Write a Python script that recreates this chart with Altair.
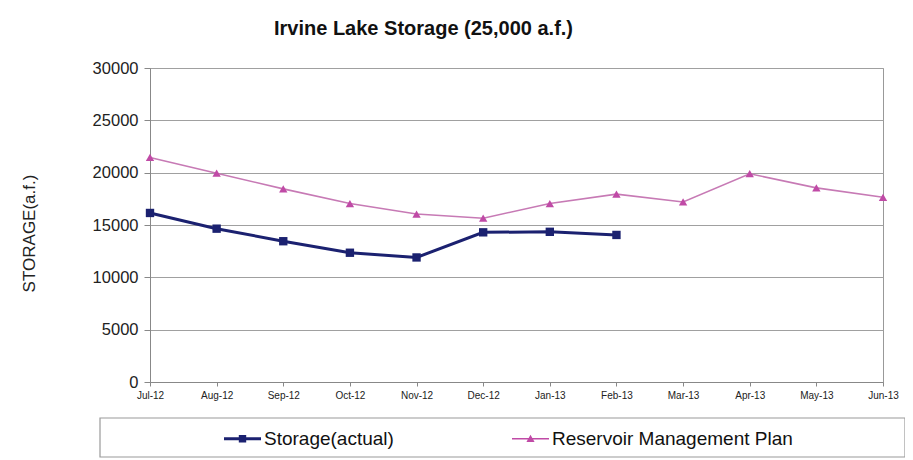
import altair as alt
import pandas as pd

months = ["Jul-12", "Aug-12", "Sep-12", "Oct-12", "Nov-12", "Dec-12",
          "Jan-13", "Feb-13", "Mar-13", "Apr-13", "May-13", "Jun-13"]
actual = [16150, 14650, 13450, 12350, 11900, 14300, 14350, 14050]
plan = [21450, 19950, 18450, 17050, 16050, 15650, 17050, 17950, 17200, 19900, 18550, 17650]
series_names = ["Storage(actual)", "Reservoir Management Plan"]
y_ticks = [0, 5000, 10000, 15000, 20000, 25000, 30000]

rows = []
for m, v in zip(months, actual):
    rows.append({"month": m, "value": v, "series": series_names[0]})
for m, v in zip(months, plan):
    rows.append({"month": m, "value": v, "series": series_names[1]})
df = pd.DataFrame(rows)

NAVY = "#1b2170"
PINK = "#c04aa6"
PINK_LINE = "#c77ab5"
FONT = "Liberation Sans"

x_enc = alt.X("month:N", sort=months,
              scale=alt.Scale(domain=months, padding=0),
              axis=alt.Axis(title=None, labelAngle=0, labelFontSize=10, labelColor="#222",
                            domainColor="#888", tickColor="#888", tickSize=4,
                            labelPadding=4, grid=False))
y_enc = alt.Y("value:Q", scale=alt.Scale(domain=[0, 30000]),
              axis=alt.Axis(title="STORAGE(a.f.)", values=y_ticks, format="d",
                            labelFontSize=16.5, labelColor="#222", labelPadding=6,
                            titleFontSize=17, titleFontWeight="normal", titleColor="#222",
                            titleAngle=-90, titleX=-112, titleY=165,
                            domainColor="#888", tickColor="#888", tickSize=6,
                            gridColor="#a0a0a0", gridWidth=1))

base = alt.Chart(df).encode(x=x_enc, y=y_enc)

act = base.transform_filter(alt.datum.series == series_names[0])
pln = base.transform_filter(alt.datum.series == series_names[1])

line_act = act.mark_line(color=NAVY, strokeWidth=3)
pts_act = act.mark_point(shape="square", filled=True, color=NAVY, size=70, opacity=1)
line_pln = pln.mark_line(color=PINK_LINE, strokeWidth=1.6)
pts_pln = pln.mark_point(shape="triangle-up", filled=True, color=PINK, size=70, opacity=1)

sq_path = "M-1,-0.08H1V0.08H-1Z M-0.2,-0.2H0.2V0.2H-0.2Z"
tri_path = "M-1,-0.04H1V0.04H-1Z M0,-0.22L0.22,0.17H-0.22Z"

legend_props = dict(orient="none", legendX=73, legendY=351,
                    direction="horizontal", title=None,
                    labelFontSize=19, labelColor="#111", labelFont=FONT,
                    symbolSize=1369, labelOffset=2,
                    columnPadding=117, padding=0, labelLimit=400)

legend_layer = base.transform_filter("datum.value < 0").mark_point(filled=True, opacity=1).encode(
    color=alt.Color("series:N",
                    scale=alt.Scale(domain=series_names, range=[NAVY, PINK]),
                    legend=alt.Legend(**legend_props)),
    shape=alt.Shape("series:N",
                    scale=alt.Scale(domain=series_names, range=[sq_path, tri_path]),
                    legend=alt.Legend(**legend_props)),
)

frame = alt.Chart(pd.DataFrame({"k": [0]})).mark_rect(
    fill=None, stroke="#9a9a9a", strokeWidth=1.2
).encode(x=alt.value(-50), x2=alt.value(755), y=alt.value(350), y2=alt.value(389))

chart = alt.layer(line_pln, pts_pln, line_act, pts_act, legend_layer, frame).properties(
    width=733, height=314,
    title=alt.TitleParams("Irvine Lake Storage (25,000 a.f.)", fontSize=20, fontWeight="bold",
                          font=FONT, color="#111", anchor="middle", dx=-93, offset=21),
    autosize=alt.AutoSizeParams(type="none"),
    padding={"left": 142, "top": 60, "right": 22, "bottom": 78},
).configure(font=FONT).configure_view(stroke="#999", strokeWidth=1).configure_axis(
    labelFont=FONT, titleFont=FONT
)

chart.save("out.html", embed_options={"renderer": "svg", "actions": False})
